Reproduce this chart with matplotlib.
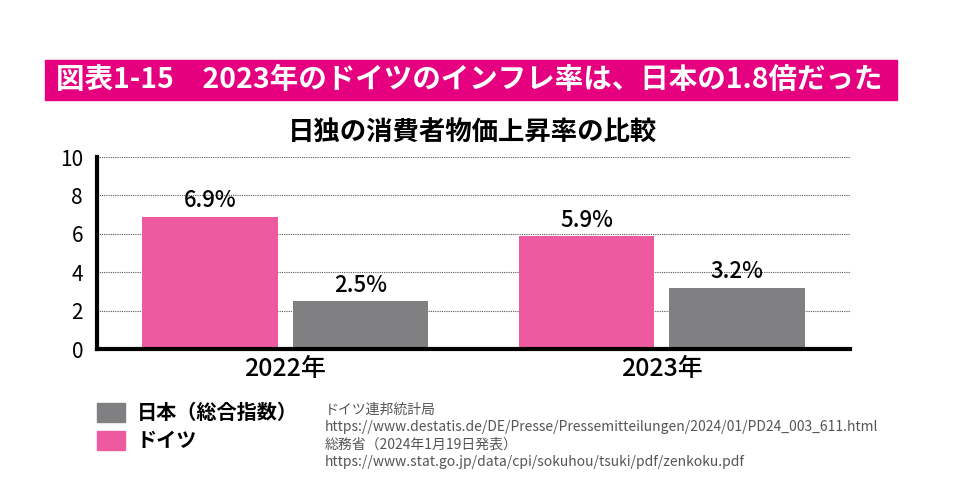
import matplotlib.pyplot as plt
from matplotlib.patches import Rectangle

plt.rcParams['font.family'] = ['Noto Sans CJK JP', 'DejaVu Sans']

years = ["2022年", "2023年"]
germany = [6.9, 5.9]
japan = [2.5, 3.2]
germany_labels = ["6.9%", "5.9%"]
japan_labels = ["2.5%", "3.2%"]
yticks = [0, 2, 4, 6, 8, 10]

pink = "#EE5AA0"
grey = "#808083"
magenta = "#E4007F"

fig = plt.figure(figsize=(9.66, 4.88), dpi=100)

# header bar
fig.patches.append(Rectangle((45 / 966, 1 - 100 / 488), 852 / 966, 40 / 488,
                             transform=fig.transFigure, color=magenta, zorder=0))
fig.text(56 / 966, 1 - 80 / 488, "図表1-15　2023年のドイツのインフレ率は、日本の1.8倍だった",
         color="white", fontsize=20.5, fontweight="bold", va="center", ha="left")

fig.text(472 / 966, 1 - 132 / 488, "日独の消費者物価上昇率の比較",
         fontsize=19, fontweight="bold", ha="center", va="center")

ax = fig.add_axes([97 / 966, 1 - 349 / 488, 753 / 966, 192 / 488])
x = range(len(years))
w = 0.36
bg = ax.bar([i - 0.2 for i in x], germany, w, color=pink, zorder=2)
bj = ax.bar([i + 0.2 for i in x], japan, w, color=grey, zorder=2)
ax.bar_label(bg, germany_labels, padding=3, fontsize=16, fontweight="medium")
ax.bar_label(bj, japan_labels, padding=3, fontsize=16, fontweight="medium")

ax.set_xlim(-0.5, 1.5)
ax.set_ylim(0, 10)
ax.set_yticks(yticks)
ax.set_xticks(list(x))
ax.set_xticklabels(years, fontsize=18, fontweight="medium")
ax.tick_params(axis="y", length=0, labelsize=15, pad=10)
ax.tick_params(axis="x", length=0, pad=5)
ax.yaxis.grid(True, linestyle=(0, (1, 1)), color="#555555", linewidth=0.8, zorder=0)
for s in ["top", "right"]:
    ax.spines[s].set_visible(False)
ax.spines["left"].set_linewidth(3)
ax.spines["bottom"].set_linewidth(3)

# legend
fig.patches.append(Rectangle((97 / 966, 1 - 422 / 488), 28 / 966, 19 / 488,
                             transform=fig.transFigure, color=grey))
fig.patches.append(Rectangle((97 / 966, 1 - 450 / 488), 28 / 966, 19 / 488,
                             transform=fig.transFigure, color=pink))
fig.text(137 / 966, 1 - 412 / 488, "日本（総合指数）", fontsize=14.5, fontweight="bold", va="center")
fig.text(137 / 966, 1 - 440 / 488, "ドイツ", fontsize=14.5, fontweight="bold", va="center")

source = ("ドイツ連邦統計局\n"
          "https://www.destatis.de/DE/Presse/Pressemitteilungen/2024/01/PD24_003_611.html\n"
          "総務省（2024年1月19日発表）\n"
          "https://www.stat.go.jp/data/cpi/sokuhou/tsuki/pdf/zenkoku.pdf")
fig.text(325 / 966, 1 - 403 / 488, source, fontsize=10, color="#555555",
         va="top", ha="left", linespacing=1.3)

fig.savefig("out.png", dpi=100)
